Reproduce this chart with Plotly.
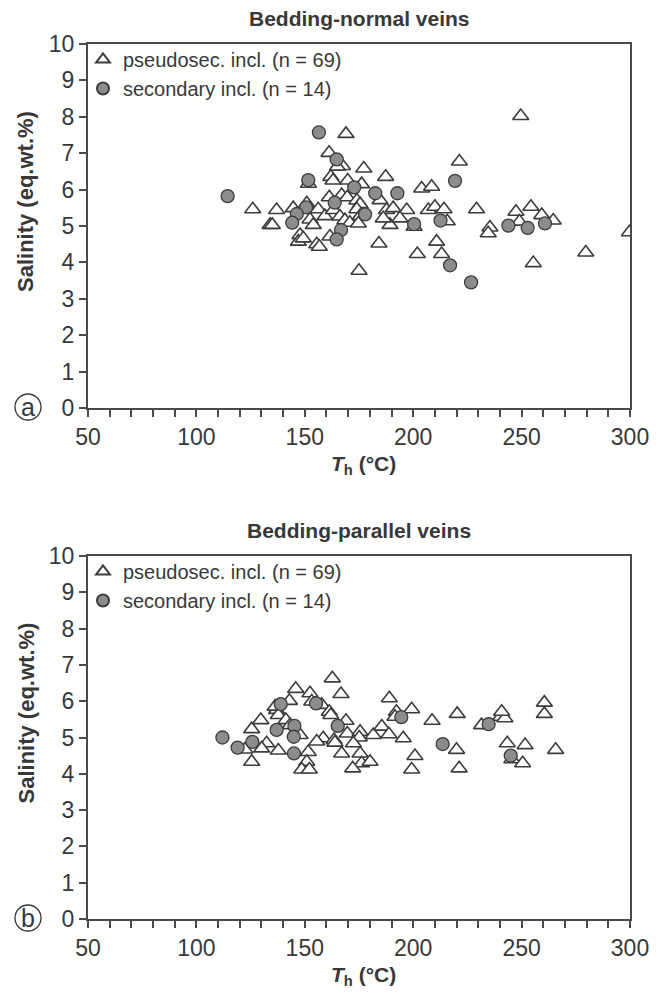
"""Fluid inclusion salinity vs homogenisation temperature, two vein sets."""

import plotly.graph_objects as go

# --- data -----------------------------------------------------------------
# (a) bedding-normal veins
normal_pseudo_th = [
    126, 134, 169, 161.2, 167.4, 165, 177.2, 187.3, 151.7, 162, 163, 169.8,
    176.2, 203.9, 208.5, 161.3, 167, 169.6, 174, 175.5, 184.7, 150.9, 144.7,
    137, 135, 156.2, 159.3, 152.4, 153.9, 163.2, 166.2, 168.5, 170.8, 174,
    175.5, 174.7, 187.7, 190.8, 197, 189.3, 193.9, 186.2, 200.4, 207, 210,
    147.8, 147, 149.3, 155.5, 156.7, 161.6, 184.2, 175, 201.9, 210.8, 249.6,
    221.3, 214.2, 215.7, 229.2, 235.4, 234.6, 247.4, 254.3, 259.3, 264.6,
    249, 213.1, 255.4, 279.6, 299.7,
]
normal_pseudo_sal = [
    5.46, 5.03, 7.53, 7.01, 6.65, 6.63, 6.58, 6.35, 6.16, 6.35, 6.25, 6.25,
    6.15, 6.03, 6.08, 5.79, 5.85, 5.79, 5.7, 5.6, 5.71, 5.62, 5.49,
    5.44, 5.03, 5.46, 5.27, 5.18, 5.03, 5.44, 5.26, 5.16, 5.09, 5.46,
    5.27, 5.07, 5.44, 5.49, 5.44, 5.03, 5.21, 5.21, 4.98, 5.44, 5.53,
    4.75, 4.57, 4.66, 4.5, 4.43, 4.71, 4.52, 3.77, 4.23, 4.57, 8.02,
    6.77, 5.46, 5.13, 5.46, 4.96, 4.8, 5.39, 5.53, 5.3, 5.15,
    5.12, 4.23, 3.98, 4.27, 4.83,
]
normal_second_th = [
    114.4, 156.5, 164.7, 151.6, 172.8, 182.5, 192.7, 163.8, 150.6, 146.3,
    144.2, 177.8, 200.4, 166.7, 164.7, 219.3, 212.6, 243.9, 252.8, 260.8,
    217, 226.7,
]
normal_second_sal = [
    5.82, 7.57, 6.83, 6.26, 6.06, 5.9, 5.9, 5.64, 5.51, 5.33,
    5.09, 5.32, 5.05, 4.89, 4.63, 6.24, 5.15, 5.01, 4.95, 5.07,
    3.92, 3.45,
]

# (b) bedding-parallel veins
parallel_pseudo_th = [
    129.7, 125.5, 122.4, 125.5, 132.4, 137, 162.7, 145.8, 152.4, 166.7, 142.9,
    136.3, 153.2, 157.8, 161.3, 162, 137.8, 189, 192.3, 199.3, 191.6, 208.7,
    141.3, 143.2, 169, 147.8, 158.5, 155.5, 163.5, 169.6, 175.5, 175.1,
    181.6, 185.5, 188.8, 195.4, 137.8, 151.6, 150.9, 148.6, 152.1, 163.9,
    167, 172.4, 175.5, 176.2, 172.1, 180.1, 200.8, 199.3, 130.1, 220.3,
    220, 221.2, 231.5, 240.3, 242.3, 240.8, 260.5, 260.5, 243.4, 245.5,
    251.6, 250.5, 265.7,
]
parallel_pseudo_sal = [
    5.48, 5.23, 4.67, 4.33, 4.84, 5.76, 6.63, 6.34, 6.22, 6.2, 6.01,
    5.85, 5.99, 5.9, 5.71, 5.62, 5.62, 6.08, 5.71, 5.78, 5.57, 5.46,
    5.48, 5.34, 5.46, 5.07, 4.98, 4.89, 4.93, 5.11, 5.16, 5.0,
    5.07, 5.3, 5.09, 4.98, 4.64, 4.6, 4.33, 4.12, 4.12, 4.86,
    4.56, 4.84, 4.56, 4.29, 4.15, 4.33, 4.49, 4.12, 4.7, 5.65,
    4.66, 4.15, 5.34, 5.57, 5.53, 5.71, 5.96, 5.65, 4.84, 4.4,
    4.79, 4.29, 4.66,
]
parallel_second_th = [
    112, 119, 125.8, 138.9, 155.2, 194.5, 137, 145.2, 144.9, 165.2, 145,
    213.6, 234.8, 245,
]
parallel_second_sal = [
    5.0, 4.72, 4.88, 5.92, 5.94, 5.56, 5.21, 5.32, 5.02, 5.32, 4.56,
    4.82, 5.37, 4.5,
]

panel_titles = ["Bedding-normal veins", "Bedding-parallel veins"]
panel_letters = ["a", "b"]
pseudo_label = "pseudosec. incl. (n = 69)"
second_label = "secondary incl. (n = 14)"

# --- layout constants ------------------------------------------------------
# positions below are page pixels; the html body adds an 8 px margin,
# so the figure itself is 8 px smaller and shifted
OFF = 8
W, H = 661 - OFF, 993 - OFF
FONT = "Liberation Sans, Arial, sans-serif"
TEXT = "#383838"
AXIS = "#4a4a4a"
x_px = (88, 630)
panels_px = [(44, 408), (556, 919)]  # (top, bottom) of each plot area


def px_x(p):
    return (p - OFF) / W


def px_y(p):
    return 1 - (p - OFF) / H


fig = go.Figure()

series = [
    (normal_pseudo_th, normal_pseudo_sal, normal_second_th, normal_second_sal),
    (parallel_pseudo_th, parallel_pseudo_sal, parallel_second_th, parallel_second_sal),
]

for i, (pth, psal, sth, ssal) in enumerate(series):
    suffix = "" if i == 0 else "2"
    legend = "legend" if i == 0 else "legend2"
    fig.add_trace(
        go.Scatter(
            x=pth,
            y=psal,
            mode="markers",
            name=pseudo_label,
            marker={
                "symbol": "triangle-up",
                "size": 14,
                "color": "white",
                "line": {"color": "#3c3c3c", "width": 1.6},
            },
            xaxis="x" + suffix,
            yaxis="y" + suffix,
            legend=legend,
        )
    )
    fig.add_trace(
        go.Scatter(
            x=sth,
            y=ssal,
            mode="markers",
            name=second_label,
            marker={
                "symbol": "circle",
                "size": 13,
                "color": "#8c8c8c",
                "line": {"color": "#3c3c3c", "width": 1.3},
            },
            xaxis="x" + suffix,
            yaxis="y" + suffix,
            legend=legend,
        )
    )

axis_common = {
    "showline": True,
    "linecolor": AXIS,
    "linewidth": 2,
    "mirror": True,
    "showgrid": False,
    "zeroline": False,
    "automargin": False,
    "ticks": "outside",
    "ticklen": 7,
    "tickwidth": 1.5,
    "tickcolor": AXIS,
    "tickfont": {"family": FONT, "size": 23, "color": TEXT},
}

layout = {
    "width": W,
    "height": H,
    "margin": {"l": 0, "r": 0, "t": 0, "b": 0, "autoexpand": False},
    "paper_bgcolor": "white",
    "plot_bgcolor": "white",
    "font": {"family": FONT, "color": TEXT},
}

annotations = []
shapes = []
for i, (top, bottom) in enumerate(panels_px):
    suffix = "" if i == 0 else "2"
    dom_y = [px_y(bottom), px_y(top)]
    layout["xaxis" + suffix] = {
        **axis_common,
        "domain": [px_x(x_px[0]), px_x(x_px[1])],
        "range": [50, 300],
        "tick0": 50,
        "dtick": 50,
        "minor": {"ticks": "outside", "dtick": 10, "ticklen": 7,
                  "tickwidth": 1.5, "tickcolor": AXIS},
        "anchor": "y" + suffix,
    }
    layout["yaxis" + suffix] = {
        **axis_common,
        "domain": dom_y,
        "range": [0, 10],
        "dtick": 1,
        "anchor": "x" + suffix,
    }
    legend_key = "legend" if i == 0 else "legend2"
    layout[legend_key] = {
        "x": px_x(83),
        "y": px_y(top - 4),
        "xanchor": "left",
        "yanchor": "top",
        "bgcolor": "rgba(0,0,0,0)",
        "font": {"family": FONT, "size": 20, "color": TEXT},
        "itemsizing": "constant",
        "tracegroupgap": 0,
    }
    # panel title
    annotations.append({
        "text": f"<b>{panel_titles[i]}</b>",
        "x": px_x((x_px[0] + x_px[1]) / 2),
        "y": px_y(top - 26),
        "xref": "paper", "yref": "paper",
        "xanchor": "center", "yanchor": "middle",
        "showarrow": False,
        "font": {"family": FONT, "size": 21, "color": TEXT},
    })
    # y-axis title
    annotations.append({
        "text": "<b>Salinity (eq.wt.%)</b>",
        "x": px_x(26),
        "y": px_y((top + bottom) / 2 - 24),
        "xref": "paper", "yref": "paper",
        "xanchor": "center", "yanchor": "middle",
        "textangle": -90,
        "showarrow": False,
        "font": {"family": FONT, "size": 22, "color": TEXT},
    })
    # x-axis title
    annotations.append({
        "text": "<b><i>T</i><sub>h</sub> (°C)</b>",
        "x": px_x((x_px[0] + x_px[1]) / 2 + 5),
        "y": px_y(bottom + 57),
        "xref": "paper", "yref": "paper",
        "xanchor": "center", "yanchor": "middle",
        "showarrow": False,
        "font": {"family": FONT, "size": 21, "color": TEXT},
    })
    # circled panel letter
    cx, cy, r = 28, bottom - 1, 13
    shapes.append({
        "type": "circle",
        "xref": "paper", "yref": "paper",
        "x0": px_x(cx - r), "x1": px_x(cx + r),
        "y0": px_y(cy + r), "y1": px_y(cy - r),
        "line": {"color": TEXT, "width": 1.3},
    })
    annotations.append({
        "text": panel_letters[i],
        "x": px_x(cx),
        "y": px_y(cy),
        "xref": "paper", "yref": "paper",
        "xanchor": "center", "yanchor": "middle",
        "showarrow": False,
        "font": {"family": FONT, "size": 25, "color": TEXT},
    })

layout["annotations"] = annotations
layout["shapes"] = shapes
fig.update_layout(**layout)

fig.write_html("out.html")
